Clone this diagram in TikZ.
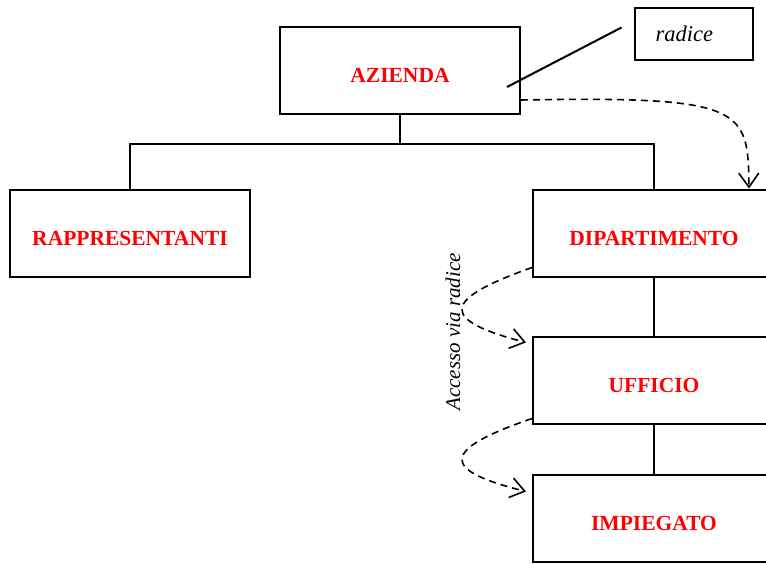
\documentclass[tikz,border=0pt]{standalone}
\usepackage{fontspec}
\setmainfont{Liberation Serif}
\usetikzlibrary{arrows.meta}
\begin{document}
\begin{tikzpicture}[x=1pt,y=-1pt,line width=2pt,
    entity/.style={draw,minimum width=240pt,minimum height=87pt,inner sep=0pt,
      text height=24.5pt,text depth=0pt,
      text=red,font=\fontsize{21.5}{25}\selectfont\bfseries},
    nav/.style={line width=1.6pt,dash pattern=on 7pt off 5pt,
      -{Straight Barb[length=14pt,width=20pt]}}]
    \useasboundingbox (0,0) rectangle (766,563);
    \clip (0,0) rectangle (766,563);
    \node[entity] (azienda) at (400,70.5) {AZIENDA};
    \node[entity] (rapp) at (130,233) {RAPPRESENTANTI};
    \node[entity,minimum width=242pt] (dip) at (654,233) {DIPARTIMENTO};
    \node[entity,minimum width=242pt] (uff) at (654,380) {UFFICIO};
    \node[entity,minimum width=242pt] (imp) at (654,518) {IMPIEGATO};
    \node[draw,minimum height=52pt,text width=76pt,align=left,inner xsep=21pt,inner ysep=0pt,
      font=\fontsize{22.5}{27}\selectfont\itshape] (radice) at (693.5,33.5) {radice};
    % albero
    \draw (azienda.south) -- ++(0,29) -| (rapp.north);
    \draw (azienda.south) ++(0,29) -| (dip.north);
    \draw (dip) -- (uff) (uff) -- (imp);
    \draw ([xshift=-12pt,yshift=6pt]radice.west) -- ([xshift=107pt,yshift=-16.5pt]azienda.center);
    % accessi
    \draw[nav] ([yshift=15pt]azienda.south east) .. controls (745,96) and (748,108) .. ([xshift=95pt]dip.north);
    \draw[nav] ([yshift=10pt]dip.south west) .. controls (440,300) and (440,320) .. ([xshift=-6pt,yshift=-7pt]uff.north west);
    \draw[nav] ([yshift=6pt]uff.south west) .. controls (440,450) and (440,470) .. ([xshift=-6pt,yshift=-18pt]imp.north west);
    \node[rotate=90,font=\fontsize{21}{25}\selectfont\itshape] (via) at (453,332) {Accesso via radice};
\end{tikzpicture}
\end{document}
